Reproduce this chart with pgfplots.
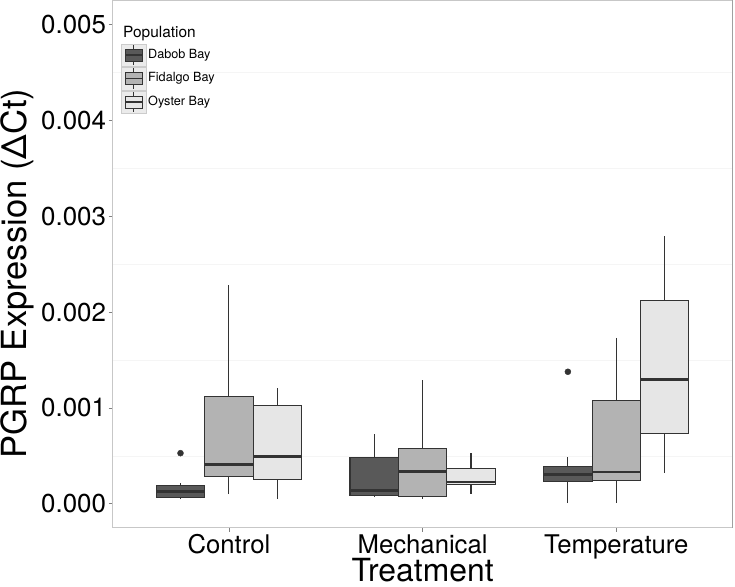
\documentclass[border=0pt]{standalone}
\usepackage{fontspec}
\setmainfont{TeX Gyre Heros}
\usepackage{pgfplots}
\pgfplotsset{compat=1.18}
\usepgfplotslibrary{statistics}
\definecolor{dabob}{HTML}{595959}
\definecolor{fidalgo}{HTML}{B3B3B3}
\definecolor{oyster}{HTML}{E6E6E6}
\definecolor{bord}{HTML}{333333}
\begin{document}
% y values in units of 0.001 (tick labels give the true values)
\begin{tikzpicture}
\begin{axis}[
  at={(0,0)}, anchor=south west,
  scale only axis, width=619.8bp, height=527.3bp,
  xmin=0.4, xmax=3.6, ymin=-0.25, ymax=5.25,
  xtick={1,2,3}, xticklabels={Control,Mechanical,Temperature},
  ytick={0,1,2,3,4,5},
  yticklabels={0.000,0.001,0.002,0.003,0.004,0.005},
  minor ytick={0.5,1.5,2.5,3.5,4.5},
  minor tick length=0pt,
  ymajorgrids=false, yminorgrids=true,
  minor grid style={color=black!4, line width=0.6bp},
  tick align=outside, xtick pos=lower, ytick pos=left,
  major tick length=4bp,
  tick style={color=black!50, line width=0.8bp},
  axis line style={draw=black!22, line width=0.9bp},
  yticklabel style={font=\fontsize{26}{30}\selectfont, inner sep=0pt, xshift=-2.5bp},
  xticklabel style={font=\fontsize{25.8}{30}\selectfont, inner sep=0pt, anchor=base, yshift=-22bp},
  xlabel={Treatment}, ylabel={PGRP Expression (ΔCt)},
  xlabel style={font=\fontsize{32}{36}\selectfont, at={(axis description cs:0.5,0)}, anchor=base, inner sep=0pt, yshift=-54bp},
  ylabel style={font=\fontsize{34.7}{40}\selectfont, at={(axis description cs:-0.1544,0.482)}, anchor=center, inner sep=0pt},
  boxplot/draw direction=y,
  boxplot/every median/.style={line width=2.2bp},
  boxplot/every whisker/.style={line width=1.1bp},
  boxplot/every box/.style={line width=1.1bp},
  boxplot/box extend=0.25,
  boxplot/whisker extend=0,
]
% Control
\addplot[draw=bord, fill=dabob, boxplot prepared={draw position=0.75, lower whisker=0.045, lower quartile=0.066, median=0.128, upper quartile=0.191, upper whisker=0.212}] coordinates {};
\addplot[draw=bord, fill=fidalgo, boxplot prepared={draw position=1.0, lower whisker=0.097, lower quartile=0.285, median=0.41, upper quartile=1.122, upper whisker=2.277}] coordinates {};
\addplot[draw=bord, fill=oyster, boxplot prepared={draw position=1.25, lower whisker=0.045, lower quartile=0.253, median=0.493, upper quartile=1.025, upper whisker=1.203}] coordinates {};
% Mechanical
\addplot[draw=bord, fill=dabob, boxplot prepared={draw position=1.75, lower whisker=0.069, lower quartile=0.087, median=0.139, upper quartile=0.486, upper whisker=0.723}] coordinates {};
\addplot[draw=bord, fill=fidalgo, boxplot prepared={draw position=2.0, lower whisker=0.055, lower quartile=0.079, median=0.337, upper quartile=0.574, upper whisker=1.286}] coordinates {};
\addplot[draw=bord, fill=oyster, boxplot prepared={draw position=2.25, lower whisker=0.104, lower quartile=0.198, median=0.225, upper quartile=0.368, upper whisker=0.532}] coordinates {};
% Temperature
\addplot[draw=bord, fill=dabob, boxplot prepared={draw position=2.75, lower whisker=0.006, lower quartile=0.233, median=0.306, upper quartile=0.392, upper whisker=0.486}] coordinates {};
\addplot[draw=bord, fill=fidalgo, boxplot prepared={draw position=3.0, lower whisker=0.006, lower quartile=0.243, median=0.33, upper quartile=1.078, upper whisker=1.732}] coordinates {};
\addplot[draw=bord, fill=oyster, boxplot prepared={draw position=3.25, lower whisker=0.319, lower quartile=0.73, median=1.297, upper quartile=2.121, upper whisker=2.788}] coordinates {};
% outliers
\addplot[only marks, mark=*, mark size=3bp, color=bord] coordinates {(0.75,0.528) (2.75,1.377)};
\draw[black!45, line width=1bp] (rel axis cs:1,0) -- (rel axis cs:1,1);
\end{axis}
\begin{scope}[x=1bp,y=1bp]
\useasboundingbox (-112.7,-58.7) rectangle (622.3,527.3);
\node[anchor=west, inner sep=0pt, font=\fontsize{15.5}{18}\selectfont] at (10.3,494.3) {Population};
\foreach \c/\lab/\yt/\yb in {dabob/Dabob Bay/484.3/461.3, fidalgo/Fidalgo Bay/461.3/437.3, oyster/Oyster Bay/437.3/414.3}{
  \pgfmathsetmacro{\ym}{(\yt+\yb)/2}
  \fill[black!8] (8.3,\yb+0.5) rectangle (33.3,\yt-0.5);
  \draw[black!20, line width=0.8bp] (8.3,\yb+0.5) rectangle (33.3,\yt-0.5);
  \draw[bord, line width=0.8bp] (20.8,\yb+1.5) -- (20.8,\yt-1.5);
  \filldraw[fill=\c, draw=bord, line width=0.8bp] (12.3,\ym-6) rectangle (29.3,\ym+6);
  \draw[bord, line width=1.6bp] (12.3,\ym) -- (29.3,\ym);
  \node[anchor=west, inner sep=0pt, font=\fontsize{12.7}{15}\selectfont] at (35.3,\ym) {\lab};
}
\end{scope}
\end{tikzpicture}
\end{document}
